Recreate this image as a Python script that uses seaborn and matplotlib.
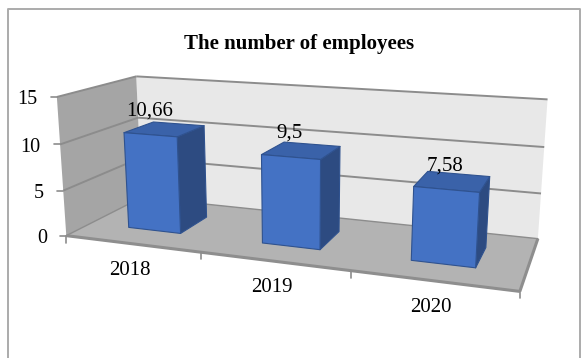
import numpy as np
import matplotlib
matplotlib.use("Agg")
import matplotlib.pyplot as plt
from matplotlib.patches import Polygon
import seaborn as sns

# ---- data -------------------------------------------------------------
years = ["2018", "2019", "2020"]
employees = [10.66, 9.5, 7.58]
value_ticks = [0, 5, 10, 15]
value_tick_labels = ["0", "5", "10", "15"]
title = "The number of employees"

# ---- style ------------------------------------------------------------
sns.set_theme(style="white")
plt.rcParams["font.family"] = ["Liberation Serif", "DejaVu Serif"]

bar_color = sns.color_palette(["#4472C4"])[0]
bar_top = tuple(c * 0.86 for c in bar_color)
bar_side = tuple(c * 0.66 for c in bar_color)
bar_edge = "#2F528F"
wall_left = "#A5A5A5"
wall_back = "#E8E8E8"
floor_color = "#B3B3B3"
grid_color = "#8C8C8C"

W_PX, H_PX = 587, 358
fig = plt.figure(figsize=(W_PX / 100, H_PX / 100), dpi=100)
ax = fig.add_axes([0, 0, 1, 1])
ax.set_xlim(0, W_PX)
ax.set_ylim(H_PX, 0)
ax.axis("off")

n_cat = len(years)
z_top = value_ticks[-1]

# ---- perspective camera ------------------------------------------------
# box corners (category, depth, value) pinned onto the canvas; a 3x4
# projective camera is solved from them (DLT)
box_world = [
    (0, 0, 0), (0, 0, z_top), (0, 1, z_top), (0, 1, 10),
    (n_cat, 1, z_top), (n_cat, 1, 10), (n_cat, 1, 0), (n_cat, 0, 0),
    (1, 0, 0), (2, 0, 0), (0, 0, 10), (0, 0, 5),
]
box_canvas = [
    (67, 234), (57, 97), (137, 75), (137, 120),
    (547, 100), (545, 147), (538, 237), (520, 290),
    (201, 255), (350, 273), (60, 144), (63, 189),
]


def fit_camera(world, canvas):
    rows = []
    for (X, Y, Z), (u, v) in zip(world, canvas):
        X, Y, Z, u, v = X, Y, Z / 5.0, u / 100.0, v / 100.0
        rows.append([X, Y, Z, 1, 0, 0, 0, 0, -u * X, -u * Y, -u * Z, -u])
        rows.append([0, 0, 0, 0, X, Y, Z, 1, -v * X, -v * Y, -v * Z, -v])
    _, _, vt = np.linalg.svd(np.asarray(rows, float))
    return vt[-1].reshape(3, 4)


CAM = fit_camera(box_world, box_canvas)


def proj(X, Y, Z):
    h = CAM @ np.array([X, Y, Z / 5.0, 1.0])
    return 100 * h[0] / h[2], 100 * h[1] / h[2]


def face(pts, fc, ec="none", lw=0.0, z=1):
    ax.add_patch(Polygon([proj(*p) for p in pts], closed=True,
                         facecolor=fc, edgecolor=ec, linewidth=lw,
                         joinstyle="round", zorder=z))


def seg(p, q, color, lw, z=2):
    a, b = proj(*p), proj(*q)
    ax.plot([a[0], b[0]], [a[1], b[1]], color=color, lw=lw,
            solid_capstyle="butt", zorder=z)


# ---- walls and floor ---------------------------------------------------
face([(0, 1, 0), (n_cat, 1, 0), (n_cat, 1, z_top), (0, 1, z_top)], wall_back)
face([(0, 0, 0), (0, 1, 0), (0, 1, z_top), (0, 0, z_top)], wall_left)
face([(0, 0, 0), (n_cat, 0, 0), (n_cat, 1, 0), (0, 1, 0)], floor_color,
     ec=grid_color, lw=1.0, z=1.5)
seg((0, 0, 0), (n_cat, 0, 0), "#8E8E8E", 2.2, z=1.6)
seg((n_cat, 0, 0), (n_cat, 1, 0), "#8E8E8E", 2.2, z=1.6)

for z in value_ticks[1:]:
    seg((0, 0, z), (0, 1, z), grid_color, 1.4)
    seg((0, 1, z), (n_cat, 1, z), grid_color, 1.4)

# value axis ticks and labels on the front-left edge
for z, lab in zip(value_ticks, value_tick_labels):
    u, v = proj(0, 0, z)
    ax.plot([u - 6, u], [v, v], color=grid_color, lw=1.2, zorder=2)
    ax.text(u - 19.5, v + 7.5, lab, ha="right", va="baseline",
            fontsize=14.5, color="black")

# category ticks along the front floor edge
for k in range(n_cat + 1):
    u, v = proj(k, 0, 0)
    ax.plot([u, u], [v, v + 7], color=grid_color, lw=1.2, zorder=2)

# ---- bars --------------------------------------------------------------
bar_w, bar_d = 0.4, 0.4
y0, y1 = 0.5 - bar_d / 2, 0.5 + bar_d / 2
for i, (yr, val) in enumerate(zip(years, employees)):
    xc = i + 0.5
    x0, x1 = xc - bar_w / 2, xc + bar_w / 2
    face([(x1, y0, 0), (x1, y1, 0), (x1, y1, val), (x1, y0, val)],
         bar_side, ec=bar_edge, lw=0.8, z=3)
    face([(x0, y0, val), (x1, y0, val), (x1, y1, val), (x0, y1, val)],
         bar_top, ec=bar_edge, lw=0.8, z=3)
    face([(x0, y0, 0), (x1, y0, 0), (x1, y0, val), (x0, y0, val)],
         bar_color, ec=bar_edge, lw=0.8, z=3.1)

    u, v = proj(xc, y0, val)
    ax.text(u - 1, v - 19, f"{val:g}".replace(".", ","), ha="center",
            va="baseline", fontsize=15, color="black", zorder=4)

    u, v = proj(xc, 0, 0)
    ax.text(u - 2, v + 31, yr, ha="center", va="baseline",
            fontsize=15, color="black")

# ---- title and frame ---------------------------------------------------
ax.text(299, 49, title, ha="center", va="baseline", fontsize=15,
        fontweight="bold", color="black")
ax.plot([7.5, 7.5, 580, 580], [H_PX + 2, 9, 9, H_PX + 2],
        color="#ABABAB", lw=1.4, zorder=0.5)

fig.savefig("out.png", dpi=100)
